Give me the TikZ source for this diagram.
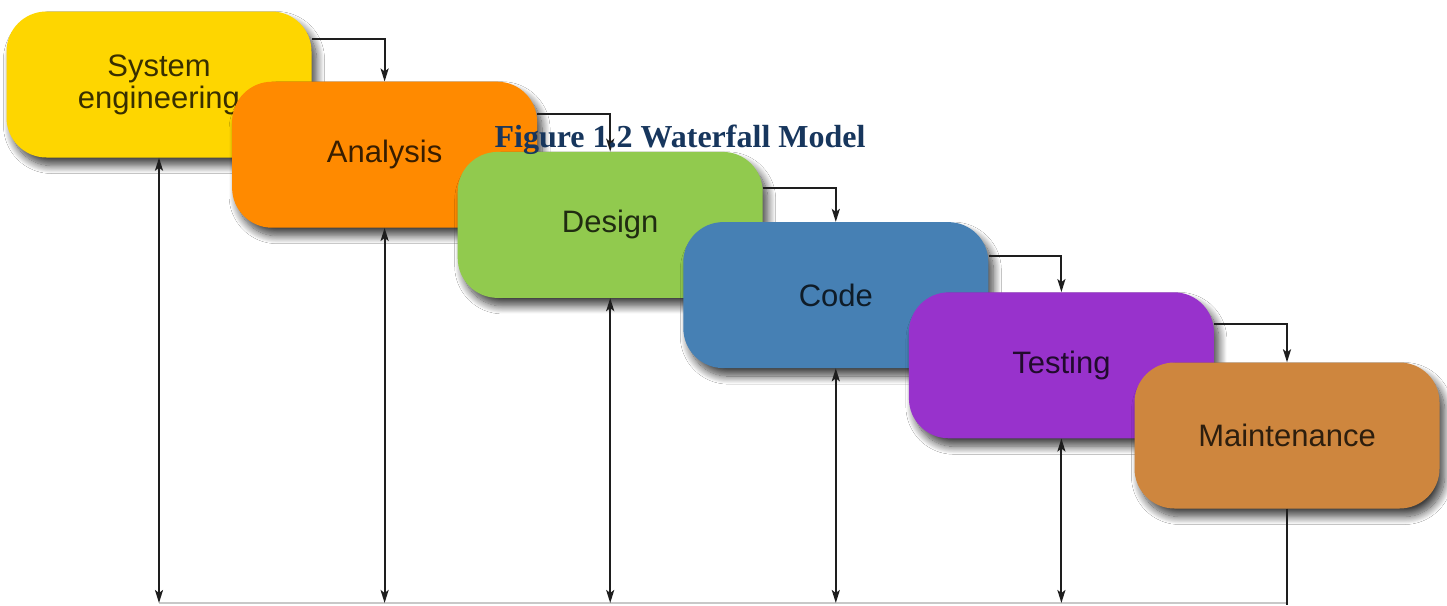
\documentclass[tikz,border=0pt]{standalone}
\usepackage{fontspec}
\newfontfamily\phasefont{Liberation Sans}
\newfontfamily\captionfont{Liberation Serif}
\usetikzlibrary{arrows.meta,shadows.blur,calc}

\definecolor{sysyellow}{RGB}{254,214,0}
\definecolor{anaorange}{RGB}{255,138,0}
\definecolor{desgreen}{RGB}{145,202,78}
\definecolor{codeblue}{RGB}{70,128,180}
\definecolor{testpurple}{RGB}{152,50,204}
\definecolor{maintbrown}{RGB}{206,134,62}
\definecolor{captionnavy}{RGB}{23,54,93}
\definecolor{linkgray}{RGB}{30,30,30}
\definecolor{floorgray}{RGB}{200,200,200}

\tikzset{
  phase/.style={
    shape=rectangle, rounded corners=40pt,
    minimum width=305pt, minimum height=146pt,
    fill=#1, text=black!78!#1, draw=none,
    font=\phasefont\fontsize{31}{32}\selectfont, align=center,
    blur shadow={shadow xshift=5pt, shadow yshift=-8pt,
                 shadow blur radius=8pt, shadow blur steps=14,
                 shadow opacity=75}},
  tip/.style={},
  link/.style={draw=linkgray, line width=2pt,
    -{Stealth[length=13pt,width=8pt,inset=3pt]}},
  feedback/.style={draw=linkgray, line width=2pt,
    {Stealth[length=13pt,width=8pt,inset=3pt]}-{Stealth[length=13pt,width=8pt,inset=3pt]}},
  plainlink/.style={draw=linkgray, line width=2pt},
  floor/.style={draw=floorgray, line width=2pt},
  caption/.style={font=\captionfont\bfseries\fontsize{32}{34}\selectfont,
    text=captionnavy, anchor=base}
}

\begin{document}
\begin{tikzpicture}[x=1pt,y=-1pt]
\useasboundingbox (0,0) rectangle (1447,605);
\fill[white] (0,0) rectangle (1447,605);

% the six phases, each stepping down and to the right
\node[phase=sysyellow]  (sys)  at (159,84.5)    {System\\engineering};
\node[phase=anaorange]  (ana)  at (384.6,154.7) {Analysis};
\node[phase=desgreen]   (des)  at (610.2,224.9) {Design};
\node[phase=codeblue]   (code) at (835.8,295.1) {Code};
\node[phase=testpurple] (test) at (1061.4,365.3) {Testing};
\node[phase=maintbrown] (mnt)  at (1287,435.5)  {Maintenance};

% forward flow: from the right side of each phase down onto the next
\draw[link] ($(sys.north east)+(0,28)$)  -| (ana.north);
\draw[link] ($(ana.north east)+(0,32)$)  -| (des.north);
\draw[link] ($(des.north east)+(0,36)$)  -| (code.north);
\draw[link] ($(code.north east)+(0,34)$) -| (test.north);
\draw[link] ($(test.north east)+(0,32)$) -| (mnt.north);

% feedback rail along the bottom
\coordinate (f0) at (159,603);
\coordinate (f1) at (384.6,603);
\coordinate (f2) at (610.2,603);
\coordinate (f3) at (835.8,603);
\coordinate (f4) at (1061.4,603);
\coordinate (f5) at (1287,603);
\coordinate (fend) at (1287,605);

\draw[floor] (f0) -- (f5);
\draw[feedback] (sys.south)  -- (f0);
\draw[feedback] (ana.south)  -- (f1);
\draw[feedback] (des.south)  -- (f2);
\draw[feedback] (code.south) -- (f3);
\draw[feedback] (test.south) -- (f4);
\draw[plainlink] (mnt.south) -- (fend);

% caption
\node[caption] (cap) at (680,147) {Figure 1.2 Waterfall Model};
\end{tikzpicture}
\end{document}
